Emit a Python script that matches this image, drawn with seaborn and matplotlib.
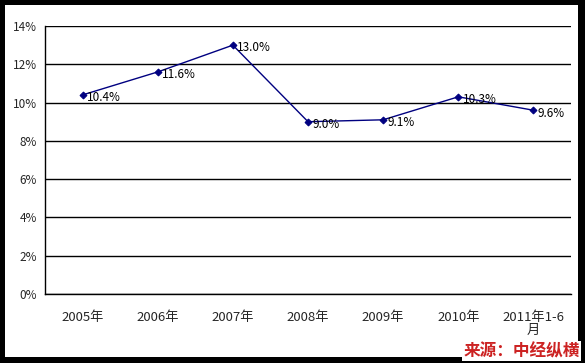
import matplotlib.pyplot as plt
import matplotlib.patches as mpatches
import numpy as np
import pandas as pd
import seaborn as sns

# data
years = ['2005年', '2006年', '2007年', '2008年', '2009年', '2010年', '2011年1-6\n月']
growth = [10.4, 11.6, 13.0, 9.0, 9.1, 10.3, 9.6]
yticks = [0, 2, 4, 6, 8, 10, 12, 14]

df = pd.DataFrame({'year': years, 'growth': growth})

sns.set_style('white')
plt.rcParams['font.family'] = ['Noto Sans CJK SC', 'DejaVu Sans']

W, H = 585, 363
fig = plt.figure(figsize=(W / 100, H / 100), dpi=100, facecolor='black')
# white inner panel inside the black frame
fig.patches.append(mpatches.Rectangle((5 / W, 1 - 357 / H), 573 / W, 352 / H,
                                      transform=fig.transFigure, facecolor='white',
                                      edgecolor='none', zorder=-10))

ax = fig.add_axes([45 / W, 1 - 294 / H, 526 / W, 268 / H])
ax.set_facecolor('white')

sns.lineplot(data=df, x='year', y='growth', ax=ax, color='#000080', linewidth=1,
             marker='D', markersize=3.5, markeredgecolor='#000080', sort=False)

for i, v in enumerate(growth):
    ax.annotate(f'{v:.1f}%', (i, v), xytext=(3, -2), textcoords='offset points',
                ha='left', va='center', fontsize=8.5, color='black')

ax.set_xlim(-0.5, len(years) - 0.5)
ax.set_ylim(0, 14)
ax.set_yticks(yticks)
ax.set_yticklabels([f'{t}%' for t in yticks], fontsize=8.5)
ax.set_xticks(range(len(years)))
ax.set_xticklabels(years, fontsize=9.5, linespacing=1.0)
ax.set_xticks(np.arange(-0.5, len(years), 1), minor=True)
ax.tick_params(axis='x', which='major', length=0, pad=12)
ax.tick_params(axis='x', which='minor', length=4, direction='in', color='black')
ax.tick_params(axis='y', length=0, pad=6)
ax.grid(axis='y', color='black', linewidth=1)
ax.set_axisbelow(True)
ax.set_xlabel('')
ax.set_ylabel('')

for s in ['top', 'right']:
    ax.spines[s].set_visible(False)
for s in ['left', 'bottom']:
    ax.spines[s].set_color('black')
    ax.spines[s].set_linewidth(1)

fig.text(580 / W, 1 - 351 / H, '来源：中经纵横', ha='right', va='center',
         fontsize=12, fontweight='bold', style='italic', color='#cc2222',
         bbox=dict(facecolor='white', edgecolor='none', pad=1))

fig.savefig('out.png', dpi=100, facecolor='black')
